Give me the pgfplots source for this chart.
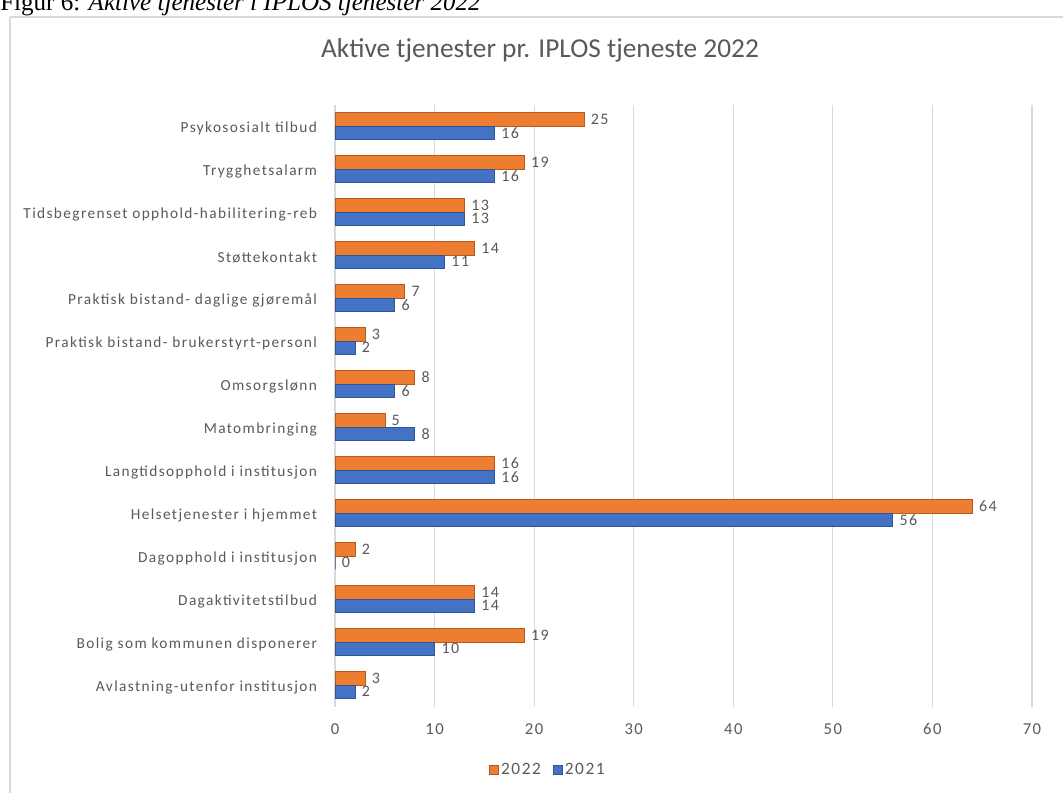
\documentclass[border=0pt]{standalone}
\usepackage{fontspec}
\setmainfont{Carlito}
\newfontfamily\lsfont[LetterSpace=9]{Carlito}
\newfontfamily\capfont{Liberation Serif}
\usepackage{pgfplots}
\pgfplotsset{compat=1.18}

\definecolor{c22}{HTML}{ED7D31}
\definecolor{c22d}{HTML}{B85A1C}
\definecolor{c21}{HTML}{4472C4}
\definecolor{c21d}{HTML}{2F5597}
\definecolor{txt}{HTML}{595959}
\definecolor{gridc}{HTML}{D9D9D9}

% y = 0 is the bottom category
\pgfplotstableread{
y v
0 3
1 19
2 14
3 2
4 64
5 16
6 5
7 8
8 3
9 7
10 14
11 13
12 19
13 25
}\datatwentytwo
\pgfplotstableread{
y v
0 2
1 10
2 14
3 0
4 56
5 16
6 8
7 6
8 2
9 6
10 11
11 13
12 16
13 16
}\datatwentyone

\begin{document}
\begin{tikzpicture}
\path[use as bounding box] (0,0) rectangle (797.25pt,-594pt);
\begin{scope}[x=0.75pt,y=-0.75pt]
  \draw[gridc, line width=0.8pt] (10,17) -- (1075,17);
  \draw[gridc, line width=0.8pt] (10,17) -- (10,800);
  \node[anchor=base west, inner sep=0pt, font=\capfont\fontsize{18.8}{18.8}\selectfont] at (0,10.5)
    {Figur 6: \textit{Aktive tjenester i IPLOS tjenester 2022}};
  \node[text=txt, font=\fontsize{20.5}{20.5}\selectfont] at (540,50)
    {Aktive tjenester pr. IPLOS tjeneste 2022};
\end{scope}
\begin{axis}[
  at={(251.25pt,-529.875pt)}, anchor=south west,
  scale only axis,
  width=522.75pt, height=451.5pt,
  xbar, bar width=10pt,
  xmin=0, xmax=70, ymin=-0.5, ymax=13.5,
  xtick={0,10,...,70},
  ytick={0,...,13},
  yticklabels={Avlastning-utenfor institusjon, Bolig som kommunen disponerer,
    Dagaktivitetstilbud, Dagopphold i institusjon, Helsetjenester i hjemmet,
    Langtidsopphold i institusjon, Matombringing, Omsorgslønn,
    Praktisk bistand- brukerstyrt-personl, Praktisk bistand- daglige gjøremål,
    Støttekontakt, Tidsbegrenset opphold-habilitering-reb, Trygghetsalarm,
    Psykososialt tilbud},
  xmajorgrids, grid style={gridc, line width=0.8pt},
  axis line style={draw=none},
  major tick length=0pt,
  /pgf/number format/assume math mode=true,
  tick label style={text=txt},
  xticklabel style={font=\lsfont\fontsize{12.5}{13}\selectfont, yshift=-9pt},
  yticklabel style={font=\lsfont\fontsize{11.5}{12}\selectfont, xshift=-10pt, yshift=-2pt},
  nodes near coords,
  every node near coord/.append style={font=\lsfont\fontsize{12}{12}\selectfont, text=txt, anchor=west, inner sep=1pt, xshift=4pt},
  legend style={at={(0.306,-0.105)}, anchor=center, draw=none, fill=none,
    font=\lsfont\fontsize{13}{13}\selectfont, text=txt,
    /tikz/every even column/.append style={column sep=7pt}},
  legend columns=-1,
  legend image code/.code={\fill[#1] (0pt,-3.5pt) rectangle (6.5pt,3.5pt);},
]
  \addplot[fill=c22, draw=c22d, bar shift=5pt] table[x=v, y=y] {\datatwentytwo};
  \addplot[fill=c21, draw=c21d, bar shift=-5pt] table[x=v, y=y] {\datatwentyone};
  \legend{2022, 2021}
\end{axis}
\end{tikzpicture}
\end{document}
